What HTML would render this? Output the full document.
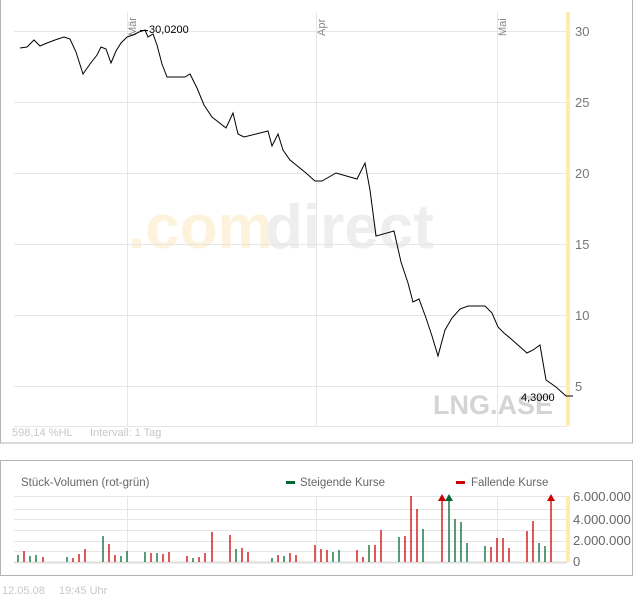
<!DOCTYPE html>
<html><head><meta charset="utf-8"><style>
body{margin:0;background:#fff;}
svg{display:block;font-family:"Liberation Sans",sans-serif;}
</style></head><body>
<svg width="634" height="597" viewBox="0 0 634 597" xmlns="http://www.w3.org/2000/svg">
<rect x="0.5" y="-2" width="632" height="445" fill="#fff" stroke="#b4b4b4"/>
<rect x="0.5" y="460.5" width="632" height="115" fill="#fff" stroke="#b4b4b4"/>
<text x="128" y="248" font-size="62" font-weight="bold" fill="#fdf2dc">.com</text>
<text x="265" y="248" font-size="62" font-weight="bold" fill="#eeeeee">direct</text>
<g stroke="#e6e6e6" stroke-width="1">
<line x1="14" y1="31.5" x2="567" y2="31.5"/><line x1="14" y1="102.5" x2="567" y2="102.5"/>
<line x1="14" y1="173.5" x2="567" y2="173.5"/><line x1="14" y1="244.5" x2="567" y2="244.5"/>
<line x1="14" y1="315.5" x2="567" y2="315.5"/><line x1="14" y1="386.5" x2="567" y2="386.5"/>
<line x1="14" y1="426.5" x2="567" y2="426.5"/>
<line x1="127.5" y1="12" x2="127.5" y2="426"/><line x1="316.5" y1="12" x2="316.5" y2="426"/><line x1="497.5" y1="12" x2="497.5" y2="426"/>
</g>
<rect x="566" y="12" width="4" height="414" fill="#feecb0"/>
<g font-size="11" fill="#888">
<text transform="translate(136,36) rotate(-90)">Mär</text>
<text transform="translate(325,36) rotate(-90)">Apr</text>
<text transform="translate(506,36) rotate(-90)">Mai</text>
</g>
<g font-size="13" fill="#777">
<text x="575" y="36">30</text><text x="575" y="107">25</text><text x="575" y="178">20</text>
<text x="575" y="249">15</text><text x="575" y="320">10</text><text x="575" y="391">5</text>
</g>
<text x="433" y="414" font-size="27" font-weight="bold" fill="#d4d4d4">LNG.ASE</text>
<polyline fill="none" stroke="#000" stroke-width="1" points="20,48 27,47 34,40 40,46 47,43 55,40 64,37 70,39 76,52 83,74 90,64 97,55 101,47 106,49 111,63 116,51 121,43 127,37 133,35 139,32 145,30 148,37 153,34 157,45 162,64 167,77 185,77 190,74 197,88 204,105 212,117 226,128 233,113 238,134 244,137 268,131 272,146 278,134 283,150 290,160 306,173 315,181 322,181 336,173 357,179 365,163 370,190 376,236 394,231 401,262 408,283 413,302 419,299 426,318 432,336 438,356 445,330 452,318 460,309 468,306 485,306 492,313 498,327 504,333 510,338 527,353 533,350 540,345 546,380 556,387 566,396 573,396"/>
<line x1="140" y1="30.5" x2="148" y2="30.5" stroke="#000"/>
<text x="149" y="33" font-size="11" fill="#000">30,0200</text>
<text x="521" y="401" font-size="11" fill="#000">4,3000</text>
<text x="12" y="436" font-size="11" fill="#c8c8c8">598,14 %HL</text>
<text x="90" y="436" font-size="11" fill="#c8c8c8">Intervall: 1 Tag</text>
<text x="21" y="486" font-size="11.5" fill="#666">Stück-Volumen (rot-grün)</text>
<rect x="286" y="481" width="9" height="3" fill="#006633"/>
<text x="300" y="486" font-size="11.5" fill="#666">Steigende Kurse</text>
<rect x="456" y="481" width="9" height="3" fill="#cc0000"/>
<text x="471" y="486" font-size="11.5" fill="#666">Fallende Kurse</text>
<g stroke="#e6e6e6">
<line x1="14" y1="496.5" x2="567" y2="496.5"/><line x1="14" y1="509.5" x2="567" y2="509.5"/>
<line x1="14" y1="519.5" x2="567" y2="519.5"/><line x1="14" y1="530.5" x2="567" y2="530.5"/>
<line x1="14" y1="541.5" x2="567" y2="541.5"/><line x1="14" y1="551.5" x2="567" y2="551.5"/>
<line x1="14" y1="562.5" x2="567" y2="562.5" stroke="#ddd" stroke-width="2"/>
<line x1="127.5" y1="496" x2="127.5" y2="562"/><line x1="316.5" y1="496" x2="316.5" y2="562"/><line x1="497.5" y1="496" x2="497.5" y2="562"/>
</g>
<rect x="566" y="496" width="4" height="66" fill="#feecb0"/>
<g font-size="13" fill="#666">
<text x="573" y="501">6.000.000</text><text x="573" y="524">4.000.000</text>
<text x="573" y="545">2.000.000</text><text x="573" y="566">0</text>
</g>
<g stroke-width="1.3">
<g stroke="#006633">
<line x1="18" x2="18" y1="562" y2="555"/><line x1="30" x2="30" y1="562" y2="556"/><line x1="36" x2="36" y1="562" y2="555"/>
<line x1="67" x2="67" y1="562" y2="557"/><line x1="103" x2="103" y1="562" y2="536"/><line x1="121" x2="121" y1="562" y2="556"/>
<line x1="127" x2="127" y1="562" y2="551"/><line x1="145" x2="145" y1="562" y2="552"/><line x1="157" x2="157" y1="562" y2="553"/>
<line x1="193" x2="193" y1="562" y2="558"/><line x1="236" x2="236" y1="562" y2="549"/><line x1="272" x2="272" y1="562" y2="558"/>
<line x1="284" x2="284" y1="562" y2="556"/><line x1="333" x2="333" y1="562" y2="552"/><line x1="339" x2="339" y1="562" y2="550"/>
<line x1="369" x2="369" y1="562" y2="545"/><line x1="399" x2="399" y1="562" y2="537"/><line x1="423" x2="423" y1="562" y2="529"/>
<line x1="449" x2="449" y1="562" y2="498"/><line x1="455" x2="455" y1="562" y2="519"/><line x1="461" x2="461" y1="562" y2="522"/>
<line x1="467" x2="467" y1="562" y2="543"/><line x1="485" x2="485" y1="562" y2="546"/><line x1="539" x2="539" y1="562" y2="543"/>
<line x1="545" x2="545" y1="562" y2="546"/>
</g>
<g stroke="#cc0000">
<line x1="24" x2="24" y1="562" y2="551"/><line x1="43" x2="43" y1="562" y2="557"/><line x1="73" x2="73" y1="562" y2="558"/>
<line x1="79" x2="79" y1="562" y2="554"/><line x1="85" x2="85" y1="562" y2="549"/><line x1="109" x2="109" y1="562" y2="544"/>
<line x1="115" x2="115" y1="562" y2="555"/><line x1="151" x2="151" y1="562" y2="553"/><line x1="163" x2="163" y1="562" y2="554"/>
<line x1="169" x2="169" y1="562" y2="552"/><line x1="187" x2="187" y1="562" y2="556"/><line x1="199" x2="199" y1="562" y2="557"/>
<line x1="205" x2="205" y1="562" y2="553"/><line x1="212" x2="212" y1="562" y2="532"/><line x1="230" x2="230" y1="562" y2="535"/>
<line x1="242" x2="242" y1="562" y2="548"/><line x1="248" x2="248" y1="562" y2="552"/><line x1="278" x2="278" y1="562" y2="555"/>
<line x1="290" x2="290" y1="562" y2="553"/><line x1="296" x2="296" y1="562" y2="555"/><line x1="315" x2="315" y1="562" y2="545"/>
<line x1="321" x2="321" y1="562" y2="549"/><line x1="327" x2="327" y1="562" y2="550"/><line x1="357" x2="357" y1="562" y2="550"/>
<line x1="363" x2="363" y1="562" y2="557"/><line x1="375" x2="375" y1="562" y2="545"/><line x1="381" x2="381" y1="562" y2="530"/>
<line x1="405" x2="405" y1="562" y2="536"/><line x1="411" x2="411" y1="562" y2="496"/><line x1="417" x2="417" y1="562" y2="509"/>
<line x1="442" x2="442" y1="562" y2="498"/><line x1="491" x2="491" y1="562" y2="547"/><line x1="497" x2="497" y1="562" y2="538"/>
<line x1="503" x2="503" y1="562" y2="538"/><line x1="509" x2="509" y1="562" y2="548"/><line x1="527" x2="527" y1="562" y2="531"/>
<line x1="533" x2="533" y1="562" y2="521"/><line x1="551" x2="551" y1="562" y2="498"/>
</g>
</g>
<polygon points="442,494 438,501 446,501" fill="#cc0000"/>
<polygon points="449,494 445,501 453,501" fill="#006633"/>
<polygon points="551,494 547,501 555,501" fill="#cc0000"/>
<text x="2" y="594" font-size="11" fill="#c8c8c8">12.05.08</text>
<text x="59" y="594" font-size="11" fill="#c8c8c8">19:45 Uhr</text>
</svg>
</body></html>
